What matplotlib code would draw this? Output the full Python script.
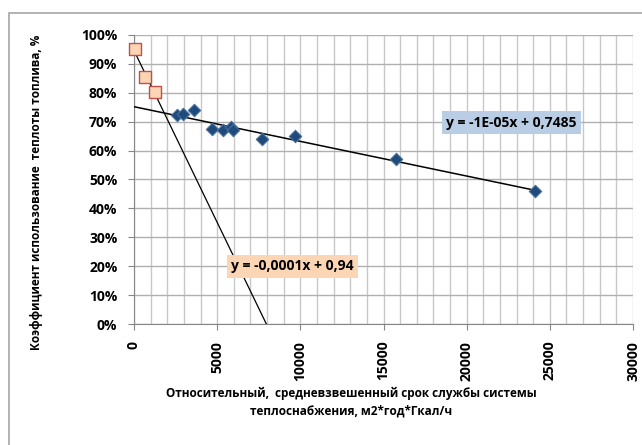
import matplotlib
matplotlib.use("Agg")
import matplotlib.pyplot as plt
import numpy as np
from matplotlib.patches import Rectangle
from matplotlib.ticker import FuncFormatter, MultipleLocator

# data
blue_x = [2600, 2930, 3610, 4690, 5330, 5830, 5970, 7700, 9680, 15730, 24110]
blue_y = [0.723, 0.727, 0.739, 0.676, 0.670, 0.683, 0.670, 0.641, 0.652, 0.571, 0.461]
orange_x = [40, 640, 1280]
orange_y = [0.950, 0.854, 0.802]

blue_eq = "y = -1E-05x + 0,7485"
orange_eq = "y = -0,0001x + 0,94"
x_label = ("Относительный,  средневзвешенный срок службы системы\n"
           "теплоснабжения, м2*год*Гкал/ч")
y_label = "Коэффициент использование  теплоты топлива, %"

plt.rcParams["font.family"] = ["Open Sans", "DejaVu Sans"]
plt.rcParams["font.weight"] = "bold"
FS = 8.5
TICK_FS = 10

W, H = 642, 445
fig = plt.figure(figsize=(W / 100, H / 100), dpi=100)
ax = fig.add_axes([134 / W, 1 - 324 / H, (633 - 134) / W, (324 - 35) / H])

# chart border
fig.patches.append(Rectangle((9 / W, -0.05), 1.0, 1 - 13 / H + 0.05,
                             transform=fig.transFigure, fill=False,
                             edgecolor="#a6a6a6", lw=1.2))

ax.set_xlim(0, 30000)
ax.set_ylim(0, 1.0)
ax.xaxis.set_major_locator(MultipleLocator(5000))
ax.xaxis.set_minor_locator(MultipleLocator(1000))
ax.yaxis.set_major_locator(MultipleLocator(0.1))
ax.grid(True, which="both", axis="x", color="#c8c8c8", lw=1.0)
ax.grid(True, which="major", axis="y", color="#b0b0b0", lw=1.0)
ax.set_axisbelow(True)
for side in ("top", "right"):
    ax.spines[side].set_visible(False)
for side in ("left", "bottom"):
    ax.spines[side].set_color("#868686")
ax.tick_params(which="major", direction="out", length=4, color="#868686",
               labelsize=TICK_FS)
ax.tick_params(which="minor", length=0)
ax.tick_params(axis="x", labelrotation=90, pad=8)
ax.tick_params(axis="y", pad=8)
ax.yaxis.set_major_formatter(FuncFormatter(lambda v, p: f"{v * 100:.0f}%"))

# trendlines fitted to the points
kb, bb = np.polyfit(blue_x, blue_y, 1)
xb = np.array([0, max(blue_x)])
ax.plot(xb, kb * xb + bb, color="black", lw=1.1, zorder=3)
ko, bo = np.polyfit(orange_x, orange_y, 1)
xo = np.array([0, -bo / ko])
ax.plot(xo, ko * xo + bo, color="black", lw=0.9, zorder=3)

ax.scatter(blue_x, blue_y, marker="D", s=40, color="#1f4a7c",
           edgecolors="#4a6f9c", linewidths=0.8, zorder=4, clip_on=False)
ax.scatter(orange_x, orange_y, marker="s", s=65, color="#fcd5b5",
           edgecolors="#c0504d", linewidths=1.0, zorder=4, clip_on=False)

ax.text(18750, 0.697, blue_eq, fontsize=TICK_FS, va="center", ha="left",
        bbox=dict(boxstyle="square,pad=0.3", fc="#b9cde5", ec="none"), zorder=5)
ax.text(5830, 0.199, orange_eq, fontsize=TICK_FS, va="center", ha="left",
        bbox=dict(boxstyle="square,pad=0.3", fc="#fcd5b5", ec="none"), zorder=5)

fig.text(351 / W, 1 - 402 / H, x_label, ha="center", va="center",
         fontsize=FS, linespacing=1.5)
fig.text(37 / W, 1 - 192 / H, y_label, ha="center", va="center",
         rotation=90, fontsize=FS)

fig.savefig("out.png", dpi=100)
